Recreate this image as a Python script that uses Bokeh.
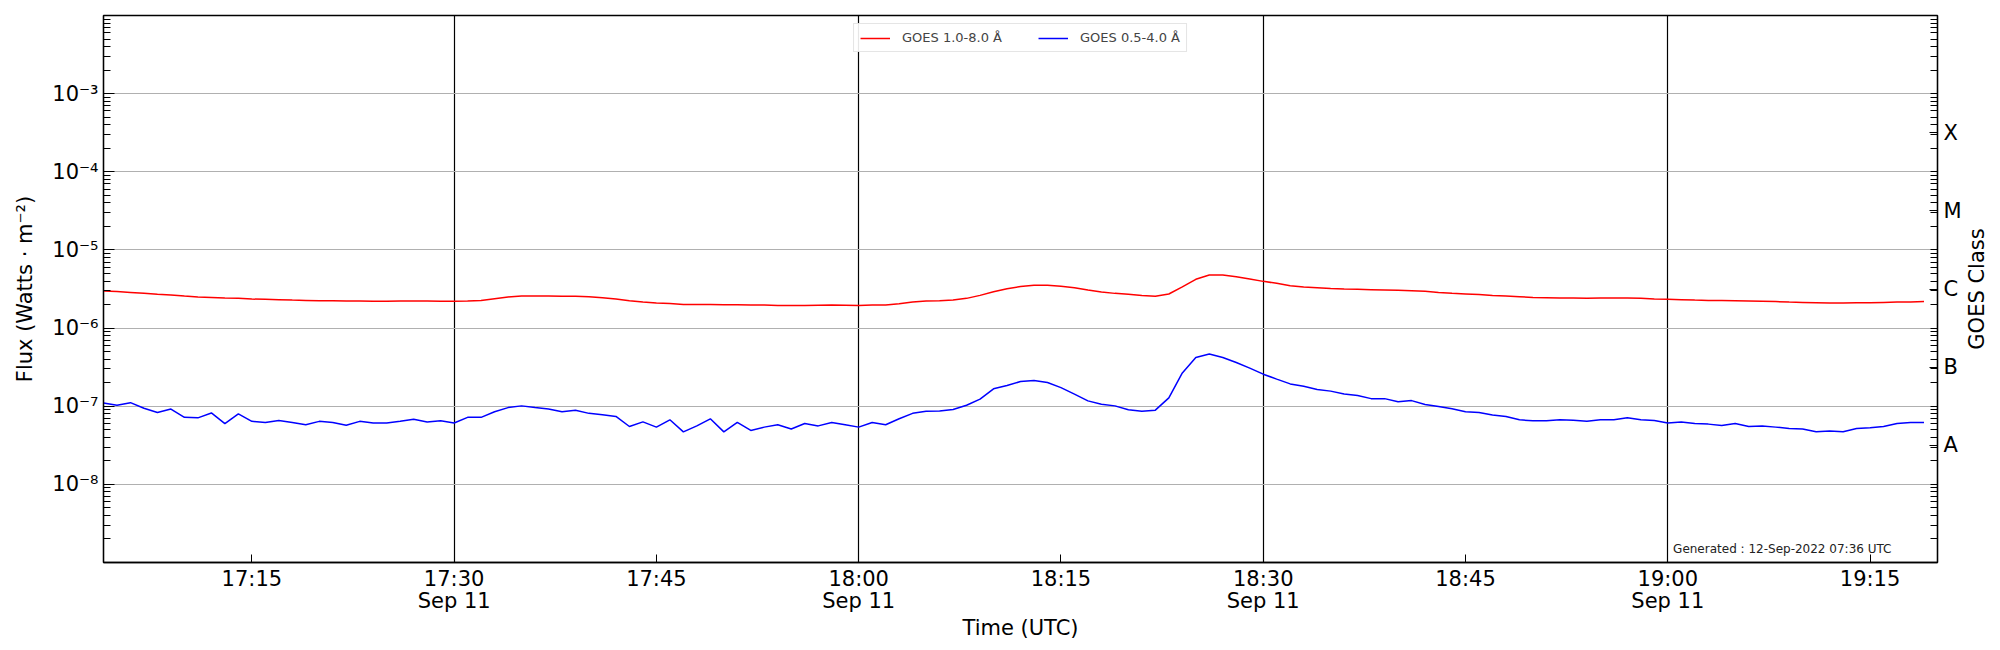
import numpy as np
import pandas as pd
from bokeh.plotting import figure
from bokeh.models import (Range1d, LogScale, LogAxis, FixedTicker, Legend, LegendItem,
                          Label, ColumnDataSource)
from bokeh.embed import file_html
from bokeh.resources import INLINE

# ---------------- data (1-minute cadence, 17:04 .. 19:19 UTC, 2022-09-11) ----------------
start_time = "2022-09-11 17:04"
# GOES 1.0-8.0 Å flux, units of 1e-6 W/m^2
xrsb = [2.98, 2.93, 2.86, 2.78, 2.70, 2.65, 2.57, 2.50, 2.47, 2.42, 2.40,
        2.35, 2.33, 2.31, 2.28, 2.26, 2.24, 2.23, 2.22, 2.22, 2.20, 2.20, 2.22, 2.22, 2.22, 2.20,
        2.20, 2.22, 2.26, 2.38, 2.50, 2.57, 2.57, 2.57, 2.55, 2.55, 2.52, 2.45, 2.35, 2.24, 2.15,
        2.09, 2.07, 2.01, 2.01, 2.01, 1.99, 1.99, 1.97, 1.97, 1.95, 1.95, 1.95, 1.96, 1.97, 1.96,
        1.95, 1.97, 1.97, 2.05, 2.15, 2.22, 2.24, 2.28, 2.40, 2.62, 2.92, 3.19, 3.40, 3.52, 3.52,
        3.42, 3.29, 3.07, 2.89, 2.78, 2.70, 2.62, 2.55, 2.73, 3.36, 4.21, 4.78, 4.78, 4.55, 4.25,
        3.96, 3.74, 3.49, 3.36, 3.29, 3.22, 3.16, 3.13, 3.10, 3.07, 3.04, 3.01, 2.95, 2.86, 2.78,
        2.73, 2.68, 2.62, 2.57, 2.52, 2.47, 2.45, 2.42, 2.42, 2.40, 2.42, 2.42, 2.42, 2.40, 2.35,
        2.33, 2.31, 2.28, 2.26, 2.26, 2.24, 2.22, 2.20, 2.18, 2.15, 2.13, 2.11, 2.09, 2.09, 2.11,
        2.11, 2.13, 2.15, 2.15, 2.18]
# GOES 0.5-4.0 Å flux, units of 1e-7 W/m^2
xrsa = [1.10, 1.03, 1.11, 0.94, 0.83, 0.92, 0.72, 0.71, 0.82, 0.60, 0.80,
        0.64, 0.62, 0.655, 0.62, 0.58, 0.64, 0.62, 0.57, 0.64, 0.61, 0.61, 0.64, 0.68, 0.63, 0.65,
        0.61, 0.72, 0.72, 0.85, 0.96, 1.01, 0.96, 0.92, 0.85, 0.89, 0.81, 0.78, 0.74, 0.55, 0.63,
        0.54, 0.67, 0.47, 0.56, 0.69, 0.47, 0.62, 0.49, 0.54, 0.58, 0.51, 0.60, 0.56, 0.62, 0.58,
        0.54, 0.62, 0.58, 0.69, 0.81, 0.86, 0.87, 0.91, 1.03, 1.23, 1.67, 1.84, 2.07, 2.13, 2.01,
        1.73, 1.43, 1.17, 1.06, 1.01, 0.90, 0.86, 0.89, 1.28, 2.67, 4.21, 4.65, 4.21, 3.63, 3.07,
        2.57, 2.22, 1.93, 1.80, 1.64, 1.56, 1.43, 1.37, 1.25, 1.25, 1.14, 1.18, 1.05, 0.99, 0.93,
        0.85, 0.83, 0.77, 0.74, 0.67, 0.65, 0.65, 0.67, 0.66, 0.64, 0.67, 0.67, 0.71, 0.67, 0.655,
        0.61, 0.63, 0.60, 0.59, 0.565, 0.60, 0.55, 0.56, 0.54, 0.52, 0.51, 0.47, 0.48, 0.47, 0.52,
        0.53, 0.55, 0.60, 0.62, 0.62]

x_start = "2022-09-11 17:04"
x_end = "2022-09-11 19:20"
x_tick_times = ["17:15", "17:30", "17:45", "18:00", "18:15", "18:30", "18:45", "19:00", "19:15"]
x_date_ticks = ["17:30", "18:00", "18:30", "19:00"]
date_text = "Sep 11"
y_decades = [1e-8, 1e-7, 1e-6, 1e-5, 1e-4, 1e-3]
y_labels = ["10⁻⁸", "10⁻⁷", "10⁻⁶", "10⁻⁵", "10⁻⁴", "10⁻³"]
class_labels = ["A", "B", "C", "M", "X"]
class_exps = [-7.5, -6.5, -5.5, -4.5, -3.5]
series_names = ["GOES 1.0-8.0 Å", "GOES 0.5-4.0 Å"]
generated_text = "Generated : 12-Sep-2022 07:36 UTC"

# ---------------- build ----------------
times = pd.date_range(start_time, periods=len(xrsb), freq="1min")
src = ColumnDataSource(dict(t=times,
                            b=np.array(xrsb) * 1e-6,
                            a=np.array(xrsa) * 1e-7))

def ms(hhmm):
    return float(pd.Timestamp("2022-09-11 " + hhmm).value // 10**6)

FONT = "DejaVu Sans"
FW, FH = 1834, 547
p = figure(frame_width=FW, frame_height=FH, x_axis_type="datetime", y_axis_type="log",
           x_range=Range1d(pd.Timestamp(x_start), pd.Timestamp(x_end)),
           y_range=Range1d(1e-9, 1e-2), output_backend="svg", toolbar_location=None,
           title=None, min_border_left=103, min_border_right=47, min_border_top=15,
           min_border_bottom=72, background_fill_color="white", border_fill_color="white")
p.outline_line_color = "black"
p.outline_line_width = 1.3

r_b = p.line("t", "b", source=src, color="#ff0000", line_width=1.5)
r_a = p.line("t", "a", source=src, color="#0000ff", line_width=1.5)

# x axis
xticks = [ms(t) for t in x_tick_times]
overrides = {}
for t in x_tick_times:
    overrides[ms(t)] = t + ("\n" + date_text if t in x_date_ticks else "")
xa = p.xaxis[0]
xa.ticker = FixedTicker(ticks=xticks, minor_ticks=[])
xa.major_label_overrides = overrides
xa.axis_label = "Time (UTC)"

# left y axis
minors = [m * 10.0 ** e for e in range(-9, -2) for m in range(2, 10)]
ya = p.yaxis[0]
ya.ticker = FixedTicker(ticks=y_decades, minor_ticks=minors)
ya.major_label_overrides = {v: l for v, l in zip(y_decades, y_labels)}
ya.axis_label = "Flux (Watts · m⁻²)"

# right (GOES class) axis
p.extra_y_ranges = {"cls": Range1d(1e-9, 1e-2)}
p.extra_y_scales = {"cls": LogScale()}
centers = [10.0 ** e for e in class_exps]
ra = LogAxis(y_range_name="cls",
             ticker=FixedTicker(ticks=centers, minor_ticks=y_decades + minors),
             major_label_overrides={c: l for c, l in zip(centers, class_labels)})
p.add_layout(ra, "right")

for ax in [xa, ya, ra]:
    ax.major_label_text_font = FONT
    ax.major_label_text_font_size = "21px"
    ax.major_label_text_color = "black"
    ax.axis_label_text_font = FONT
    ax.axis_label_text_font_size = "21px"
    ax.axis_label_text_font_style = "normal"
    ax.axis_label_text_color = "black"
    ax.axis_line_color = "black"
    ax.axis_line_width = 1.3
    ax.major_tick_line_color = "black"
    ax.minor_tick_line_color = "black"
    ax.major_tick_out = 0
    ax.minor_tick_out = 0
xa.major_label_text_line_height = 0.92
xa.major_tick_in = 8
ya.major_tick_in = 11
ya.minor_tick_in = 7
ra.major_tick_in = 8
ra.minor_tick_in = 7
xa.major_label_standoff = 4
ya.major_label_standoff = 5
ra.major_label_standoff = 6
xa.axis_label_standoff = 0
ya.axis_label_standoff = 12

# "GOES Class" title on the right, reading bottom-to-top, centred on the frame
cls_label = Label(x=12, y=FH / 2, x_units="screen", y_units="screen",
                  text="GOES Class", angle=np.pi / 2, text_align="center",
                  text_baseline="middle", text_font=FONT, text_font_size="21px",
                  text_color="black")
p.add_layout(cls_label, "right")

# grids
p.xgrid.ticker = FixedTicker(ticks=[ms(t) for t in x_date_ticks])
p.xgrid.grid_line_color = "black"
p.xgrid.grid_line_width = 1.2
p.ygrid.ticker = FixedTicker(ticks=y_decades)
p.ygrid.grid_line_color = "#b0b0b0"
p.ygrid.grid_line_width = 1.2

# legend
legend = Legend(items=[LegendItem(label=series_names[0], renderers=[r_b]),
                       LegendItem(label=series_names[1], renderers=[r_a])],
                location="top_center", orientation="horizontal",
                label_text_font=FONT, label_text_font_size="13px",
                glyph_width=30, glyph_height=14, spacing=36, padding=6, margin=8,
                label_standoff=12, border_line_color="#cccccc", border_line_width=1,
                background_fill_alpha=0.9)
p.add_layout(legend)

gen = Label(x=FW - 46, y=14, x_units="screen", y_units="screen", text=generated_text,
            text_align="right", text_baseline="alphabetic", text_font=FONT,
            text_font_size="12px", text_color="#222222")
p.add_layout(gen)

open("out.html", "w").write(file_html(p, INLINE))
